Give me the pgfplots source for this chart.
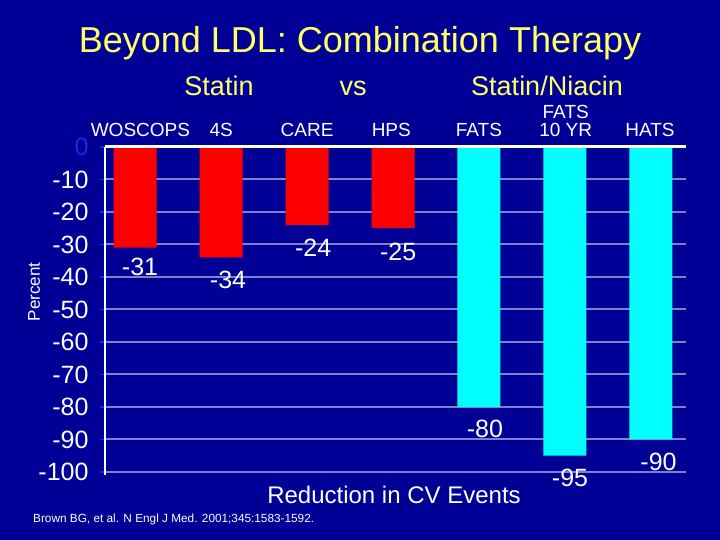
\documentclass[border=0pt]{standalone}
\usepackage{pgfplots}
\pgfplotsset{compat=1.18}
\usepackage{fontspec}
\setmainfont{Liberation Sans}
\definecolor{bg}{RGB}{0,0,150}
\definecolor{ttl}{RGB}{255,255,102}
\definecolor{gridc}{RGB}{128,128,205}
\definecolor{zeroblue}{RGB}{25,40,225}
\definecolor{barred}{RGB}{255,0,0}
\definecolor{barcyan}{RGB}{0,255,255}
\newcommand{\fs}[1]{\fontsize{#1bp}{#1bp}\selectfont}
\begin{document}
\begin{tikzpicture}[x=1bp,y=1bp]
\fill[bg] (0,0) rectangle (720,540);
\useasboundingbox (0,0) rectangle (720,540);
% titles
\node[ttl,font=\fs{36},anchor=base,inner sep=0] at (360,487) {Beyond LDL: Combination Therapy};
\node[ttl,font=\fs{27},anchor=base,inner sep=0,text depth=0pt] at (219,444) {Statin};
\node[ttl,font=\fs{27},anchor=base,inner sep=0,text depth=0pt] at (353,444) {vs};
\node[ttl,font=\fs{27},anchor=base,inner sep=0,text depth=0pt] at (547,444) {Statin/Niacin};
% y label
\node[white,font=\fs{17},rotate=90] at (34,248) {Percent};
% x label
\node[white,font=\fs{24}] at (394,45) {Reduction in CV Events};
% citation
\node[white,font=\fs{11.8},anchor=west,inner sep=0] at (33,21) {Brown BG, et al. N Engl J Med. 2001;345:1583-1592.};
\begin{axis}[
  at={(105bp,68bp)}, anchor=south west,
  scale only axis, width=581bp, height=325bp,
  xmin=-0.352, xmax=6.41, ymin=-100, ymax=0,
  clip=false,
  axis line style={draw=none},
  xtick=\empty,
  ytick={0,-10,-20,-30,-40,-50,-60,-70,-80,-90,-100},
  yticklabels={\textcolor{zeroblue}{0},-10,-20,-30,-40,-50,-60,-70,-80,-90,-100},
  ytick pos=left, tick align=outside,
  major tick length=5bp,
  tick style={zeroblue, line width=1.5bp},
  yticklabel style={white, font=\fs{25}, xshift=-8bp},
  ymajorgrids,
  major grid style={gridc, line width=2bp},
  /pgf/number format/assume math mode=true,
  ybar, bar width=43bp,
]
\addplot[fill=barred, draw=none, bar shift=0pt] coordinates {(0,-31) (1,-34) (2,-24) (3,-25)};
\addplot[fill=barcyan, draw=none, bar shift=0pt] coordinates {(4,-80) (5,-95) (6,-90)};
% axis lines
\draw[white, line width=3bp] (rel axis cs:0,1) -- (rel axis cs:1,1);
\draw[white, line width=2.5bp] (rel axis cs:0,1) -- (axis cs:-0.352,-101);
% category labels
\begin{scope}[every node/.style={white, font=\fs{19}, anchor=base, inner sep=0}]
\node at (axis cs:0.06,3.1) {WOSCOPS};
\node at (axis cs:1.0,3.1) {4S};
\node at (axis cs:2.0,3.1) {CARE};
\node at (axis cs:2.98,3.1) {HPS};
\node at (axis cs:4.0,3.1) {FATS};
\node at (axis cs:5.01,8.9) {FATS};
\node at (axis cs:5.01,3.1) {10 YR};
\node at (axis cs:5.99,3.1) {HATS};
\end{scope}
% value labels
\begin{scope}[every node/.style={white, font=\fs{25}}]
\node at (axis cs:0.056,-37.0) {-31};
\node at (axis cs:1.08,-41.0) {-34};
\node at (axis cs:2.07,-30.9) {-24};
\node at (axis cs:3.06,-32.4) {-25};
\node at (axis cs:4.07,-86.6) {-80};
\node at (axis cs:5.06,-101.9) {-95};
\node at (axis cs:6.09,-97.0) {-90};
\end{scope}
\end{axis}
\end{tikzpicture}
\end{document}
